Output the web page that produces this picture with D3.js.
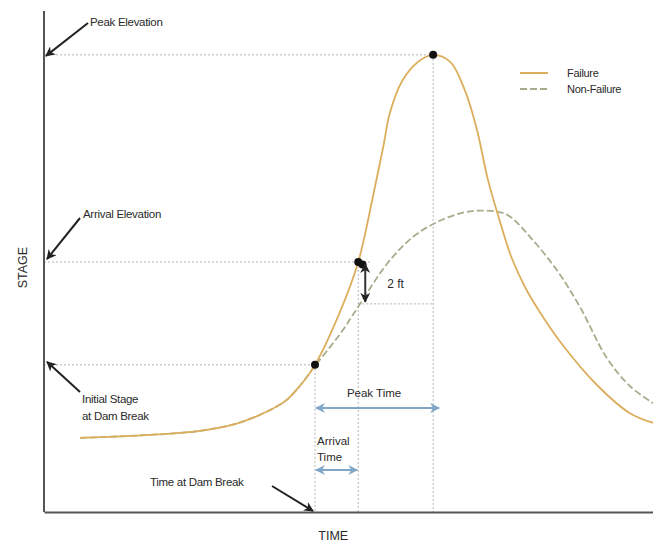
<!DOCTYPE html>
<html>
<head>
<meta charset="utf-8">
<script src="https://cdn.jsdelivr.net/npm/d3@7"></script>
<style>
  html, body { margin: 0; padding: 0; background: #fff; }
  svg { display: block; font-family: "Liberation Sans", Arial, sans-serif; }
</style>
</head>
<body>
<svg id="chart" width="653" height="544"></svg>
<script>
// ---- data (abstract units: time 0-100, stage 0-100) ----
const failureTime  = [5.9, 17.4, 25.6, 31.5, 35.5, 39.6, 42.0, 44.5, 48.6, 51.6, 54.0, 55.7, 56.8, 58.9, 61.4, 63.9, 66.7, 69.1, 71.1, 72.9, 74.9, 76.8, 79.0, 81.4, 85.2, 90.8, 96.2, 100];
const failureStage = [14.7, 15.3, 16.1, 17.5, 19.3, 22.0, 25.0, 29.2, 39.7, 49.6, 62.5, 72.4, 79.2, 85.7, 89.3, 90.7, 89.3, 83.7, 75.8, 65.9, 57.5, 50.4, 44.6, 39.7, 33.1, 25.2, 19.6, 17.7];
const nonFailureTime  = [5.9, 17.4, 25.6, 31.5, 35.5, 39.6, 42.0, 44.5, 48.6, 51.9, 56.3, 60.6, 64.5, 68.8, 72.4, 76.0, 79.8, 84.2, 88.0, 92.4, 96.2, 100];
const nonFailureStage = [14.7, 15.3, 16.1, 17.5, 19.3, 22.0, 25.0, 29.0, 35.3, 41.3, 49.2, 54.6, 57.5, 59.4, 59.8, 59.0, 54.6, 48.0, 40.7, 30.6, 25.0, 21.6];
const seriesNames = ["Failure", "Non-Failure"];

// key event values
const initTime = 44.5, initStage = 29.2;
const arrivalTime = 51.6, arrivalStage = 49.6;
const peakTime = 63.9, peakStage = 90.7;
const nonFailureAtArrival = 41.3;

const colFailure = "#dcae5c";
const colNonFailure = "#a6ad8c";
const colBlue = "#7fa6c6";
const colRef = "#b4b4b4";
const colText = "#2a2a2a";

const svg = d3.select("#chart");
const x = d3.scaleLinear().domain([0, 100]).range([44, 653]);
const y = d3.scaleLinear().domain([0, 100]).range([512, 8]);

// markers
const defs = svg.append("defs");
function marker(id, color, size) {
  defs.append("marker").attr("id", id)
    .attr("viewBox", "0 0 10 10").attr("refX", 9).attr("refY", 5)
    .attr("markerWidth", size).attr("markerHeight", size)
    .attr("orient", "auto-start-reverse")
    .append("path").attr("d", "M0,0 L10,5 L0,10 L3,5 Z").attr("fill", color);
}
marker("arrBlack", "#222", 5);
marker("arrBlue", colBlue, 5);

// reference dotted lines
const refs = [
  [0, peakStage, peakTime, peakStage],
  [peakTime, peakStage, peakTime, 0],
  [0, arrivalStage, arrivalTime + 2, arrivalStage],
  [arrivalTime, arrivalStage, arrivalTime, 0],
  [0, initStage, initTime, initStage],
  [initTime, initStage, initTime, 0],
  [arrivalTime, nonFailureAtArrival, peakTime, nonFailureAtArrival]
];
svg.append("g").selectAll("line").data(refs).join("line")
  .attr("x1", d => x(d[0])).attr("y1", d => y(d[1]))
  .attr("x2", d => x(d[2])).attr("y2", d => y(d[3]))
  .attr("stroke", colRef).attr("stroke-width", 1).attr("stroke-dasharray", "2,2");

// axes
const xAxis = d3.axisBottom(x).tickValues([]).tickSizeOuter(0);
const yAxis = d3.axisLeft(y).tickValues([]).tickSizeOuter(0);
svg.append("g").attr("transform", `translate(0,${y(0)})`).call(xAxis)
  .select(".domain").attr("stroke", "#555").attr("stroke-width", 2);
svg.append("g").attr("transform", `translate(${x(0)},0)`).call(yAxis)
  .select(".domain").attr("stroke", "#555").attr("stroke-width", 2)
  .attr("d", `M0,${y(99.4)}V${y(0)}`);

// curves
const line = d3.line().x(d => x(d[0])).y(d => y(d[1])).curve(d3.curveCatmullRom.alpha(0.5));
const nfData = d3.zip(nonFailureTime, nonFailureStage);
const fData = d3.zip(failureTime, failureStage);
svg.append("path").datum(nfData).attr("d", line)
  .attr("fill", "none").attr("stroke", colNonFailure).attr("stroke-width", 1.8)
  .attr("stroke-dasharray", "7,3");
svg.append("path").datum(fData).attr("d", line)
  .attr("fill", "none").attr("stroke", colFailure).attr("stroke-width", 1.8);

// points
const pts = [[initTime, initStage], [arrivalTime, arrivalStage], [arrivalTime + 0.7, arrivalStage - 0.5], [peakTime, peakStage]];
svg.append("g").selectAll("circle").data(pts).join("circle")
  .attr("cx", d => x(d[0])).attr("cy", d => y(d[1])).attr("r", 4).attr("fill", "#111");

// 2 ft arrow
svg.append("line")
  .attr("x1", x(arrivalTime) + 7).attr("y1", y(arrivalStage) + 2)
  .attr("x2", x(arrivalTime) + 7).attr("y2", y(nonFailureAtArrival) - 2)
  .attr("stroke", "#333").attr("stroke-width", 2)
  .attr("marker-start", "url(#arrBlack)").attr("marker-end", "url(#arrBlack)");
svg.append("text").attr("x", x(arrivalTime) + 29).attr("y", (y(arrivalStage) + y(nonFailureAtArrival)) / 2 + 5)
  .attr("font-size", 12).attr("fill", colText).text("2 ft");

// time arrows (blue)
svg.append("line")
  .attr("x1", x(initTime) + 1).attr("y1", 408).attr("x2", x(peakTime) + 6).attr("y2", 408)
  .attr("stroke", colBlue).attr("stroke-width", 2)
  .attr("marker-start", "url(#arrBlue)").attr("marker-end", "url(#arrBlue)");
svg.append("text").attr("x", (x(initTime) + x(peakTime)) / 2).attr("y", 397)
  .attr("text-anchor", "middle").attr("font-size", 11.5).attr("fill", colText).text("Peak Time");
svg.append("line")
  .attr("x1", x(initTime) + 1).attr("y1", 470).attr("x2", x(arrivalTime) - 1).attr("y2", 470)
  .attr("stroke", colBlue).attr("stroke-width", 2)
  .attr("marker-start", "url(#arrBlue)").attr("marker-end", "url(#arrBlue)");
const at = svg.append("text").attr("font-size", 11.5).attr("fill", colText);
at.append("tspan").attr("x", x(initTime) + 2).attr("y", 445).text("Arrival");
at.append("tspan").attr("x", x(initTime) + 2).attr("y", 461).text("Time");

// black annotation arrows
const blackArrows = [
  [88, 23, x(0) + 2, y(peakStage) + 1],
  [80, 218, x(0) + 3, y(arrivalStage) - 3],
  [80, 392, x(0) + 3, y(initStage) - 3],
  [272, 486, x(initTime) - 2, y(0) - 1]
];
svg.append("g").selectAll("line").data(blackArrows).join("line")
  .attr("x1", d => d[0]).attr("y1", d => d[1]).attr("x2", d => d[2]).attr("y2", d => d[3])
  .attr("stroke", "#222").attr("stroke-width", 2).attr("marker-end", "url(#arrBlack)");

const labels = [
  ["Peak Elevation", 90, 26],
  ["Arrival Elevation", 83, 218],
  ["Initial Stage", 82, 403],
  ["at Dam Break", 82, 420],
  ["Time at Dam Break", 150, 486]
];
svg.append("g").selectAll("text").data(labels).join("text")
  .attr("x", d => d[1]).attr("y", d => d[2]).attr("font-size", 11.5)
  .attr("letter-spacing", -0.3).attr("fill", colText).text(d => d[0]);

// axis titles
svg.append("text").attr("x", x(47.5)).attr("y", 540).attr("text-anchor", "middle")
  .attr("font-size", 12.5).attr("fill", colText).text("TIME");
svg.append("text").attr("transform", `translate(27,${y(48.5)}) rotate(-90)`)
  .attr("text-anchor", "middle").attr("font-size", 12.5).attr("fill", colText).text("STAGE");

// legend
const legend = svg.append("g").attr("transform", "translate(520,73)");
seriesNames.forEach((name, i) => {
  const g = legend.append("g").attr("transform", `translate(0,${i * 16})`);
  g.append("line").attr("x1", 0).attr("x2", 28).attr("y1", 0).attr("y2", 0)
    .attr("stroke", i === 0 ? colFailure : colNonFailure).attr("stroke-width", 2)
    .attr("stroke-dasharray", i === 0 ? null : "7,3");
  g.append("text").attr("x", 47).attr("y", 4).attr("font-size", 11)
    .attr("letter-spacing", -0.3).attr("fill", colText).text(name);
});
</script>
</body>
</html>
